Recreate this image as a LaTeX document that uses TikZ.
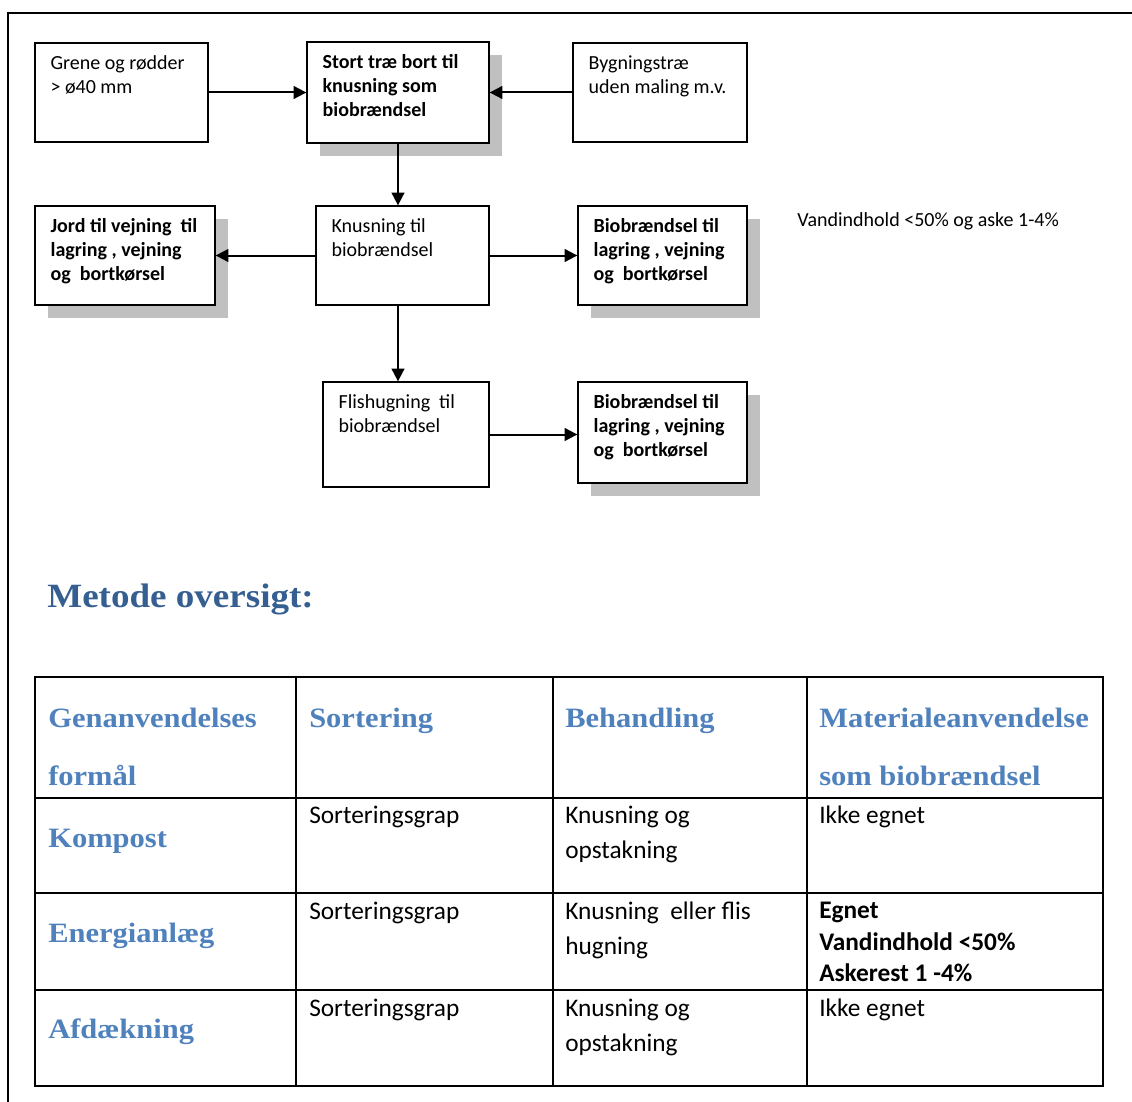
\documentclass[tikz,border=0pt]{standalone}
\usepackage{fontspec}
\setmainfont{Carlito}
\newfontfamily\headfont[FakeStretch=1.09]{Liberation Serif}
\usepackage{xcolor}
\usetikzlibrary{arrows.meta,fit,shadows}

\definecolor{headblue}{HTML}{365F91}
\definecolor{tabblue}{HTML}{4F81BD}
\definecolor{shadowgray}{HTML}{C0C0C0}

\tikzset{
  box/.style={draw, line width=1pt, fill=white, inner sep=0pt},
  shbox/.style={box, drop shadow={shadow xshift=9.75pt, shadow yshift=-10pt, fill=shadowgray, opacity=1}},
  boxtext/.style={anchor=north west, align=left, inner xsep=12pt, inner ysep=9.5pt, font=\fontsize{15}{18}\selectfont},
  flow/.style={line width=1.5pt, -{Triangle[length=9.5pt,width=9.5pt]}},
  cell/.style={anchor=base west, inner sep=0pt, font=\fontsize{19}{22}\selectfont},
  colhead/.style={anchor=base west, inner sep=0pt, text=tabblue, font=\headfont\bfseries\fontsize{21}{25}\selectfont},
  grid/.style={line width=1pt}
}

\begin{document}
\begin{tikzpicture}[x=0.75pt,y=-0.75pt]
    \useasboundingbox (0,0) rectangle (1132,1102);

    % Page frame
    \draw[line width=1.5pt] (8,1102) -- (8,13) -- (1132,13);

    % Flow boxes
    \node[box, fit={(35,43) (208,142)}] (grene) {};
    \node[shbox, fit={(307,42) (489,143)}] (stort) {};
    \node[box, fit={(573,43) (747,142)}] (bygning) {};
    \node[box, fit={(316,206) (489,305)}] (knus) {};
    \node[shbox, fit={(35,206) (215,305)}] (jord) {};
    \node[shbox, fit={(578,206) (747,305)}] (bio1) {};
    \node[box, fit={(323,382) (489,487)}] (flis) {};
    \node[shbox, fit={(578,382) (747,483)}] (bio2) {};

    % Box texts
    \node[boxtext] (grene-t) at (grene.north west) {Grene og rødder\\> ø40 mm};
    \node[boxtext, font=\fontsize{15}{18}\selectfont\bfseries] (stort-t) at (stort.north west) {Stort træ bort til\\knusning som\\biobrændsel};
    \node[boxtext] (bygning-t) at (bygning.north west) {Bygningstræ\\uden maling m.v.};
    \node[boxtext] (knus-t) at (knus.north west) {Knusning til\\biobrændsel};
    \node[boxtext, font=\fontsize{15}{18}\selectfont\bfseries] (jord-t) at (jord.north west) {Jord til vejning\ \ til\\lagring , vejning\\og\ \ bortkørsel};
    \node[boxtext, font=\fontsize{15}{18}\selectfont\bfseries] (bio1-t) at (bio1.north west) {Biobrændsel til\\lagring , vejning\\og\ \ bortkørsel};
    \node[boxtext] (flis-t) at (flis.north west) {Flishugning\ \ til\\biobrændsel};
    \node[boxtext, font=\fontsize{15}{18}\selectfont\bfseries] (bio2-t) at (bio2.north west) {Biobrændsel til\\lagring , vejning\\og\ \ bortkørsel};

    \node[anchor=base west, inner sep=0pt, font=\fontsize{15}{18}\selectfont] (note) at (797,227) {Vandindhold <50\% og aske 1-4\%};

    % Connectors
    \draw[flow] (grene) -- (stort);
    \draw[flow] (bygning) -- (stort);
    \draw[flow] (stort.south) -- (stort.south |- knus.north);
    \draw[flow] (knus) -- (jord);
    \draw[flow] (knus) -- (bio1);
    \draw[flow] (stort.south |- knus.south) -- (stort.south |- flis.north);
    \draw[flow] (flis.east) -- (flis.east -| bio2.west);

    % Heading
    \node[anchor=base west, inner sep=0pt, text=headblue, font=\headfont\bfseries\fontsize{25.5}{30}\selectfont] (heading) at (47,607) {Metode oversigt:};

    % Table grid
    \draw[grid] (35,677) rectangle (1103,1086);
    \draw[grid] (296,677) -- (296,1086);
    \draw[grid] (553,677) -- (553,1086);
    \draw[grid] (807,677) -- (807,1086);
    \draw[grid] (35,798) -- (1103,798);
    \draw[grid] (35,893) -- (1103,893);
    \draw[grid] (35,990) -- (1103,990);

    % Table header
    \node[colhead] (h1a) at (48,727) {Genanvendelses};
    \node[colhead] (h1b) at (48,785) {formål};
    \node[colhead] (h2) at (309,727) {Sortering};
    \node[colhead] (h3) at (565,727) {Behandling};
    \node[colhead] (h4a) at (819,727) {Materialeanvendelse};
    \node[colhead] (h4b) at (819,785) {som biobrændsel};

    % Row: Kompost
    \node[colhead] (r1) at (48,847) {Kompost};
    \node[cell] (r1s) at (309,823) {Sorteringsgrap};
    \node[cell] (r1ba) at (565,823) {Knusning og};
    \node[cell] (r1bb) at (565,858) {opstakning};
    \node[cell] (r1m) at (819,823) {Ikke egnet};

    % Row: Energianlaeg
    \node[colhead] (r2) at (48,942) {Energianlæg};
    \node[cell] (r2s) at (309,919) {Sorteringsgrap};
    \node[cell] (r2ba) at (565,919) {Knusning\ \ eller flis};
    \node[cell] (r2bb) at (565,954) {hugning};
    \node[cell, font=\fontsize{19}{22}\selectfont\bfseries] (r2ma) at (819,918) {Egnet};
    \node[cell, font=\fontsize{19}{22}\selectfont\bfseries] (r2mb) at (819,950) {Vandindhold <50\%};
    \node[cell, font=\fontsize{19}{22}\selectfont\bfseries] (r2mc) at (819,981) {Askerest 1 -4\%};

    % Row: Afdaekning
    \node[colhead] (r3) at (48,1038) {Afdækning};
    \node[cell] (r3s) at (309,1016) {Sorteringsgrap};
    \node[cell] (r3ba) at (565,1016) {Knusning og};
    \node[cell] (r3bb) at (565,1051) {opstakning};
    \node[cell] (r3m) at (819,1016) {Ikke egnet};
\end{tikzpicture}
\end{document}
